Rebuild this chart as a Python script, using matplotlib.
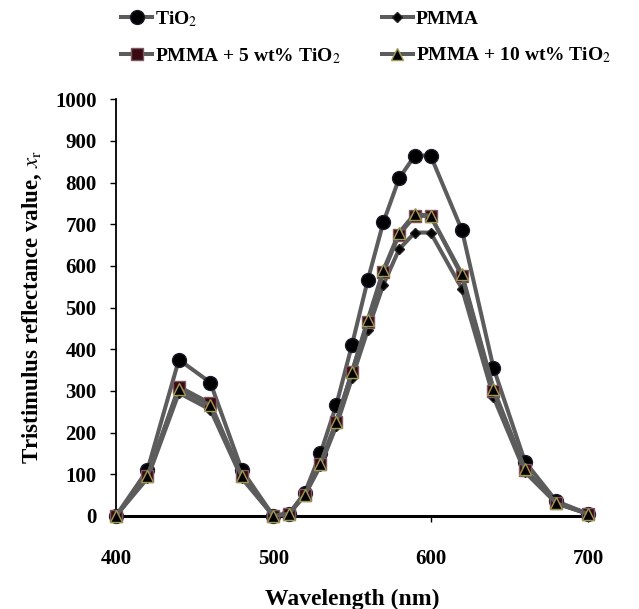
import matplotlib
matplotlib.use('Agg')
import matplotlib.pyplot as plt
import numpy as np

# wavelength (nm)
wavelength = [400, 420, 440, 460, 480, 500, 510, 520, 530, 540, 550,
              560, 570, 580, 590, 600, 620, 640, 660, 680, 700]

# tristimulus reflectance value x_r
tio2 = [0, 110, 375, 320, 110, 0, 5, 55, 150, 265, 410,
        565, 705, 810, 865, 865, 685, 355, 130, 35, 5]
pmma = [0, 90, 295, 255, 90, 0, 5, 50, 120, 215, 330,
        445, 555, 640, 680, 680, 545, 285, 105, 30, 5]
pmma_5 = [0, 95, 310, 270, 95, 0, 5, 50, 125, 225, 345,
          465, 585, 675, 720, 720, 575, 300, 110, 30, 5]
pmma_10 = [0, 95, 305, 265, 95, 0, 5, 50, 125, 225, 345,
           470, 590, 680, 725, 720, 580, 305, 112, 30, 5]

x_ticks = [400, 500, 600, 700]
y_ticks = np.arange(0, 1001, 100)

plt.rcParams['font.family'] = ['Liberation Serif', 'DejaVu Serif']
plt.rcParams['mathtext.fontset'] = 'stix'

fig = plt.figure(figsize=(6.39, 6.09), dpi=100)
ax = fig.add_axes([0.1815, 0.153, 0.7385, 0.684])

line_col = '#5c5c5c'
series = [
    (tio2, 'TiO$_2$', dict(marker='o', markersize=10, markerfacecolor='black', markeredgecolor='#1a1a2a')),
    (pmma, 'PMMA', dict(marker='D', markersize=5.5, markerfacecolor='black', markeredgecolor='#222222')),
    (pmma_5, 'PMMA + 5 wt% TiO$_2$', dict(marker='s', markersize=8.5, markerfacecolor='#3a0a14', markeredgecolor='#7a5a60')),
    (pmma_10, 'PMMA + 10 wt% TiO$_2$', dict(marker='^', markersize=8.5, markerfacecolor='black', markeredgecolor='#a09a50')),
]
handles = []
for vals, label, mk in series:
    h, = ax.plot(wavelength, vals, color=line_col, linewidth=2.9, label=label,
                 clip_on=False, zorder=3, **mk)
    handles.append(h)

ax.set_xlim(400, 700)
ax.set_ylim(0, 1000)
ax.set_xticks(x_ticks)
ax.set_yticks(y_ticks)
for s in ['top', 'right']:
    ax.spines[s].set_visible(False)
ax.spines['bottom'].set_linewidth(2.2)
ax.spines['left'].set_linewidth(1.3)
ax.tick_params(axis='both', direction='out', length=4, width=1, labelsize=15, colors='black')
ax.tick_params(axis='x', pad=20)
ax.tick_params(axis='y', pad=10)
for lab in ax.get_xticklabels() + ax.get_yticklabels():
    lab.set_fontweight('bold')

ax.set_xlabel('Wavelength (nm)', fontsize=17, fontweight='bold', labelpad=14)
ax.set_ylabel(r'Tristimulus reflectance value, $x_\mathrm{r}$', fontsize=16.5,
              fontweight='bold', labelpad=8)

# legend row order: TiO2, PMMA / PMMA+5, PMMA+10
order = [0, 2, 1, 3]
fig.legend(handles=[handles[i] for i in order], ncol=2, loc='upper left',
           bbox_to_anchor=(0.162, 1.014), frameon=False,
           prop={'weight': 'bold', 'size': 14},
           handlelength=1.6, handletextpad=0.15, columnspacing=2.1, labelspacing=0.9)

fig.savefig('out.png', dpi=100)
